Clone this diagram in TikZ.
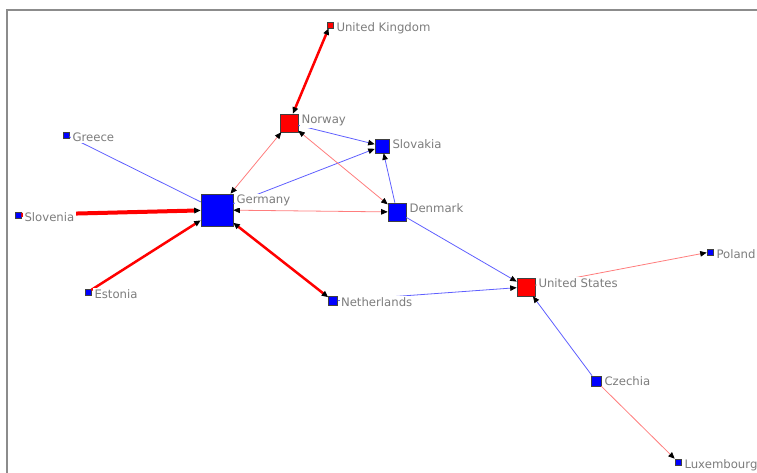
\documentclass[tikz,border=0pt]{standalone}
\usepackage{fontspec}
\setmainfont{DejaVu Sans}
\usetikzlibrary{arrows.meta}
\definecolor{frame}{RGB}{140,140,140}
\definecolor{lblgray}{RGB}{125,125,125}
\definecolor{eblue}{RGB}{95,95,255}
\definecolor{epink}{RGB}{255,125,125}
\definecolor{nred}{RGB}{255,0,0}
\definecolor{nblue}{RGB}{0,0,255}
\tikzset{
  sq/.style={rectangle, draw=black!75, line width=0.6pt, inner sep=0pt, minimum size=#1},
  rsq/.style={sq=#1, fill=nred},
  bsq/.style={sq=#1, fill=nblue},
  lbl/.style={anchor=base west, fill=white, inner sep=1.5pt, text=lblgray, font=\fontsize{11.7}{13}\selectfont},
  tip/.tip={Triangle[length=6.5pt,width=5.5pt,black]},
  blueE/.style={draw=eblue, line width=0.8pt},
  pinkE/.style={draw=epink, line width=0.8pt},
  redE/.style={draw=red, line width=#1},
  redE/.default=2.5pt
}
\begin{document}
\begin{tikzpicture}[x=1pt,y=-1pt]
\useasboundingbox (0,0) rectangle (757,473);
\draw[frame, line width=2pt] (7,473) -- (7,10) -- (757,10);

% nodes
\node[rsq=6pt]  (uk)  at (330,25)  {};
\node[rsq=18pt] (no)  at (289,123) {};
\node[bsq=14pt] (sk)  at (382,146) {};
\node[bsq=18pt] (dk)  at (397,212) {};
\node[bsq=32pt] (de)  at (217,210) {};
\node[bsq=6pt]  (gr)  at (66,135)  {};
\node[bsq=6pt]  (si)  at (18,215)  {};
\node[bsq=6pt]  (ee)  at (88,292)  {};
\node[bsq=9pt]  (nl)  at (333,301) {};
\node[rsq=18pt] (us)  at (526,287) {};
\node[bsq=6pt]  (pl)  at (710,252) {};
\node[bsq=10pt] (cz)  at (596,381) {};
\node[bsq=6pt]  (lu)  at (678,462) {};

% edges
\draw[redE, tip-tip] (no) -- (uk);
\draw[blueE, -tip] (no) -- (sk);
\draw[blueE, -tip] (de) -- (sk);
\draw[pinkE, tip-tip] (de) -- (no);
\draw[pinkE, tip-tip] (dk) -- (no);
\draw[blueE, -tip] (dk) -- (sk);
\draw[pinkE, tip-tip] (de) -- (dk);
\draw[blueE, -tip] (dk) -- (us);
\draw[blueE, -tip] (nl) -- (us);
\draw[blueE, -tip] (cz) -- (us);
\draw[pinkE, -tip] (us) -- (pl);
\draw[pinkE, -tip] (cz) -- (lu);
\draw[redE, tip-tip] (de) -- (nl);
\draw[redE=4pt, -tip] (si) -- (de);
\draw[redE, -tip] (ee) -- (de);
\draw[blueE] (gr) -- (de);

% labels
\node[lbl] (luk) at ([xshift=1.5pt,yshift=-10pt]uk.north east) {United Kingdom};
\node[lbl] (lno) at ([xshift=1.5pt,yshift=-10pt]no.north east) {Norway};
\node[lbl] (lsk) at ([xshift=1.5pt,yshift=-10pt]sk.north east) {Slovakia};
\node[lbl] (ldk) at ([xshift=1.5pt,yshift=-10pt]dk.north east) {Denmark};
\node[lbl] (lde) at ([xshift=1.5pt,yshift=-10pt]de.north east) {Germany};
\node[lbl] (lgr) at ([xshift=1.5pt,yshift=-10pt]gr.north east) {Greece};
\node[lbl] (lsi) at ([xshift=1.5pt,yshift=-10pt]si.north east) {Slovenia};
\node[lbl] (lee) at ([xshift=1.5pt,yshift=-10pt]ee.north east) {Estonia};
\node[lbl] (lnl) at ([xshift=1.5pt,yshift=-10pt]nl.north east) {Netherlands};
\node[lbl] (lus) at ([xshift=1.5pt,yshift=-10pt]us.north east) {United States};
\node[lbl] (lpl) at ([xshift=1.5pt,yshift=-10pt]pl.north east) {Poland};
\node[lbl] (lcz) at ([xshift=1.5pt,yshift=-10pt]cz.north east) {Czechia};
\node[lbl] (llu) at ([xshift=1.5pt,yshift=-10pt]lu.north east) {Luxembourg};
\end{tikzpicture}
\end{document}
